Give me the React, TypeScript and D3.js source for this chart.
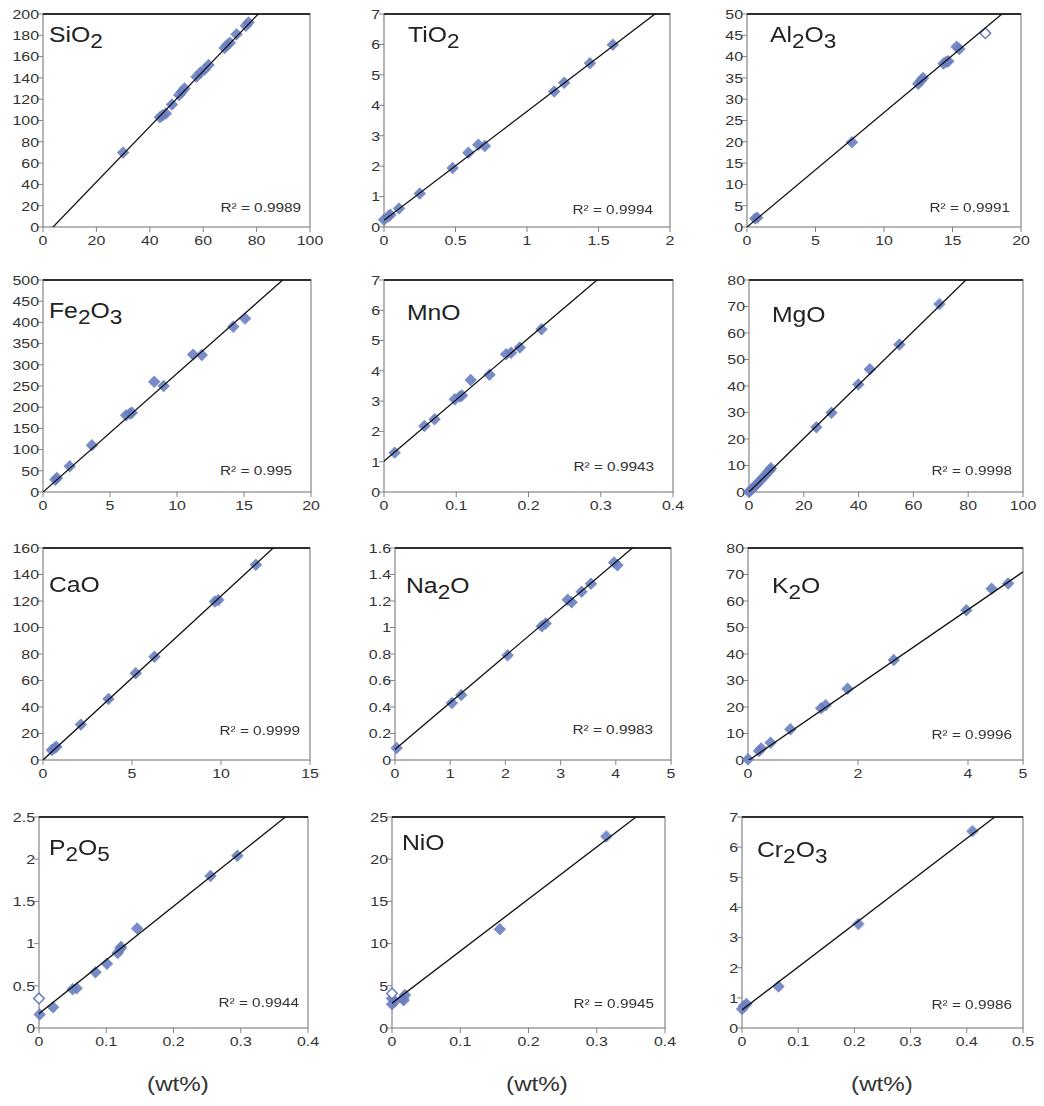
import React from 'react';
import * as d3 from 'd3';

// ---------- DATA ----------
const TITLE_PARTS: [string, boolean][][] = [
  [['SiO', false], ['2', true]],
  [['TiO', false], ['2', true]],
  [['Al', false], ['2', true], ['O', false], ['3', true]],
  [['Fe', false], ['2', true], ['O', false], ['3', true]],
  [['MnO', false]],
  [['MgO', false]],
  [['CaO', false]],
  [['Na', false], ['2', true], ['O', false]],
  [['K', false], ['2', true], ['O', false]],
  [['P', false], ['2', true], ['O', false], ['5', true]],
  [['NiO', false]],
  [['Cr', false], ['2', true], ['O', false], ['3', true]],
];

const R2_LABELS = [
  'R² = 0.9989', 'R² = 0.9994', 'R² = 0.9991',
  'R² = 0.995', 'R² = 0.9943', 'R² = 0.9998',
  'R² = 0.9999', 'R² = 0.9983', 'R² = 0.9996',
  'R² = 0.9944', 'R² = 0.9945', 'R² = 0.9986',
];

const X_MAX = [100, 2, 20, 20, 0.4, 100, 15, 5, 5, 0.4, 0.4, 0.5];
const Y_MAX = [200, 7, 50, 500, 7, 80, 160, 1.6, 80, 2.5, 25, 7];

const X_TICKS = [
  [0, 20, 40, 60, 80, 100],
  [0, 0.5, 1, 1.5, 2],
  [0, 5, 10, 15, 20],
  [0, 5, 10, 15, 20],
  [0, 0.1, 0.2, 0.3, 0.4],
  [0, 20, 40, 60, 80, 100],
  [0, 5, 10, 15],
  [0, 1, 2, 3, 4, 5],
  [0, 2, 4, 5],
  [0, 0.1, 0.2, 0.3, 0.4],
  [0, 0.1, 0.2, 0.3, 0.4],
  [0, 0.1, 0.2, 0.3, 0.4, 0.5],
];
const Y_TICKS = [
  [0, 20, 40, 60, 80, 100, 120, 140, 160, 180, 200],
  [0, 1, 2, 3, 4, 5, 6, 7],
  [0, 5, 10, 15, 20, 25, 30, 35, 40, 45, 50],
  [0, 50, 100, 150, 200, 250, 300, 350, 400, 450, 500],
  [0, 1, 2, 3, 4, 5, 6, 7],
  [0, 10, 20, 30, 40, 50, 60, 70, 80],
  [0, 20, 40, 60, 80, 100, 120, 140, 160],
  [0, 0.2, 0.4, 0.6, 0.8, 1, 1.2, 1.4, 1.6],
  [0, 10, 20, 30, 40, 50, 60, 70, 80],
  [0, 0.5, 1, 1.5, 2, 2.5],
  [0, 5, 10, 15, 20, 25],
  [0, 1, 2, 3, 4, 5, 6, 7],
];

// trendline coefficients
const TREND_SLOPE = [2.602, 3.578, 2.687, 27.95, 20.28, 1.0107, 12.37, 0.3535, 14.26, 6.36, 61.66, 14.23];
const TREND_INTERCEPT = [-9.76, 0.22, 0, 0, 1.02, 0, 0, 0.08, -0.3, 0.17, 2.95, 0.6];

const SIO2_PTS = [[30, 70], [43.8, 103], [44.8, 105], [46, 106.5], [48.3, 115], [51, 124], [52, 127], [53, 130], [57.5, 141], [59, 145], [60.5, 148], [62, 152], [68, 168], [69, 171], [70, 173], [72.5, 181], [76, 189], [77, 192]];
const TIO2_PTS = [[0, 0.24], [0.03, 0.35], [0.045, 0.4], [0.105, 0.61], [0.25, 1.1], [0.48, 1.94], [0.59, 2.44], [0.66, 2.7], [0.705, 2.66], [1.19, 4.45], [1.26, 4.74], [1.44, 5.38], [1.6, 5.99]];
const AL2O3_PTS = [[0.6, 2.0], [0.75, 2.2], [7.66, 19.9], [12.5, 33.6], [12.7, 34.4], [12.85, 35], [14.35, 38.4], [14.55, 38.8], [14.7, 38.9], [15.3, 42.3], [15.5, 41.8]];
const AL2O3_OPEN = [[17.4, 45.5]];
const FE2O3_PTS = [[0.92, 29], [1.04, 33], [1.99, 60.6], [3.65, 110], [6.2, 181], [6.5, 185], [6.63, 187], [8.3, 260], [9.0, 250], [11.2, 324], [11.85, 323], [14.2, 390], [15.08, 409]];
const MNO_PTS = [[0.0148, 1.3], [0.056, 2.18], [0.07, 2.4], [0.098, 3.06], [0.105, 3.15], [0.108, 3.19], [0.12, 3.7], [0.146, 3.87], [0.169, 4.55], [0.176, 4.6], [0.188, 4.77], [0.218, 5.37]];
const MGO_PTS = [[0, 0], [0.5, 0.6], [1.2, 1.3], [2, 2.1], [3, 3], [4, 4.2], [5, 5.3], [6, 6.4], [7, 7.6], [7.6, 8.2], [8, 9], [24.6, 24.4], [30.1, 29.9], [39.9, 40.6], [44.1, 46.3], [54.9, 55.7], [69.5, 70.9]];
const CAO_PTS = [[0.5, 7.5], [0.65, 9], [0.75, 10], [2.13, 26.7], [3.68, 46], [5.21, 65.4], [6.26, 78], [9.66, 119.7], [9.85, 120.8], [11.96, 147.4]];
const NA2O_PTS = [[0.03, 0.09], [1.03, 0.43], [1.2, 0.49], [2.04, 0.79], [2.66, 1.01], [2.73, 1.03], [3.13, 1.21], [3.2, 1.19], [3.38, 1.27], [3.55, 1.33], [3.97, 1.49], [4.03, 1.47]];
const K2O_PTS = [[0, 0.3], [0.2, 3.4], [0.24, 4.3], [0.41, 6.5], [0.77, 11.6], [1.33, 19.5], [1.41, 20.7], [1.81, 26.9], [2.65, 37.7], [3.97, 56.5], [4.43, 64.6], [4.73, 66.6]];
const P2O5_PTS = [[0.001, 0.16], [0.021, 0.245], [0.05, 0.46], [0.056, 0.47], [0.084, 0.66], [0.101, 0.76], [0.117, 0.89], [0.121, 0.94], [0.122, 0.96], [0.146, 1.18], [0.255, 1.8], [0.295, 2.04]];
const P2O5_OPEN = [[0, 0.35]];
const NIO_PTS = [[0, 3.5], [0, 2.8], [0.004, 3.15], [0.016, 3.5], [0.019, 3.9], [0.017, 3.3], [0.158, 11.7], [0.314, 22.7]];
const NIO_OPEN = [[0, 4.1]];
const CR2O3_PTS = [[0, 0.63], [0.004, 0.74], [0.008, 0.8], [0.065, 1.38], [0.207, 3.45], [0.41, 6.53]];

const FILLED = [SIO2_PTS, TIO2_PTS, AL2O3_PTS, FE2O3_PTS, MNO_PTS, MGO_PTS, CAO_PTS, NA2O_PTS, K2O_PTS, P2O5_PTS, NIO_PTS, CR2O3_PTS];
const OPEN = [[], [], AL2O3_OPEN, [], [], [], [], [], [], P2O5_OPEN, NIO_OPEN, []];

const UNIT_LABEL = '(wt%)';

// ---------- LAYOUT ----------
const PLOT_X = [[43, 310], [384, 670], [747, 1021], [43, 311], [384, 673], [749, 1023], [43, 310], [395, 671], [748, 1023], [39, 308], [392, 665], [742, 1023]];
const ROW_Y = [[14, 227], [280, 492], [548, 760], [817, 1028]];
const TITLE_POS = [[49, 42], [408, 42], [770, 42], [49, 318], [407, 320], [772, 322], [49, 592], [406, 593], [772, 593], [49, 855], [402, 850], [757, 857]];
const R2_POS = [[301, 207], [653, 209], [1010, 207], [292, 470], [654, 466], [1012, 470], [300, 730], [653, 729], [1012, 734], [299, 1002], [654, 1003], [1012, 1004]];
const UNIT_X = [178, 537, 882];
const UNIT_Y = 1091;

const FONT = '"Liberation Sans", Arial, Helvetica, sans-serif';
const SX = 1.18;
const MARK = '#6a7fc1';
const TXT = '#333';
const AXIS = '#858585';

const diamond = d3.symbol().type(d3.symbolSquare).size(78)() as string;
const openDiamond = d3.symbol().type(d3.symbolSquare).size(56)() as string;

function fmt(v: number) {
  return String(+v.toFixed(3));
}

function SText({ x, y, size, anchor = 'start', fill = TXT, children }: any) {
  return (
    <text
      transform={`translate(${x},${y}) scale(${SX},1)`}
      textAnchor={anchor}
      fontSize={size}
      fontFamily={FONT}
      fill={fill}
    >
      {children}
    </text>
  );
}

function Panel({ i }: { i: number }) {
  const [x0, x1] = PLOT_X[i];
  const [y0, y1] = ROW_Y[Math.floor(i / 3)];
  const x = d3.scaleLinear().domain([0, X_MAX[i]]).range([x0, x1]);
  const y = d3.scaleLinear().domain([0, Y_MAX[i]]).range([y1, y0]);
  const line = d3
    .line<number>()
    .x((d) => x(d))
    .y((d) => y(TREND_INTERCEPT[i] + TREND_SLOPE[i] * d));
  const trend = line([-X_MAX[i] * 0.1, X_MAX[i] * 1.1]) as string;
  const clipId = `clip-${i}`;
  const [tx, ty] = TITLE_POS[i];
  const [rx, ry] = R2_POS[i];
  return (
    <g>
      <defs>
        <clipPath id={clipId}>
          <rect x={x0} y={y0} width={x1 - x0} height={y1 - y0} />
        </clipPath>
      </defs>
      {/* frame */}
      <rect x={x0} y={y0} width={x1 - x0} height={y1 - y0} fill="#fff" stroke={AXIS} strokeWidth={1.2} />
      <line x1={x0} x2={x1} y1={y0} y2={y0} stroke="#2e2e2e" strokeWidth={2} />
      {/* y ticks */}
      {Y_TICKS[i].map((t) => (
        <g key={'y' + t}>
          <line x1={x0 - 5} x2={x0} y1={y(t)} y2={y(t)} stroke={AXIS} strokeWidth={1} />
          <SText x={x0 - 4} y={y(t) + 4.8} size={13.5} anchor="end">
            {fmt(t)}
          </SText>
        </g>
      ))}
      {/* x ticks */}
      {X_TICKS[i].map((t) => (
        <g key={'x' + t}>
          <line x1={x(t)} x2={x(t)} y1={y1} y2={y1 + 5} stroke={AXIS} strokeWidth={1} />
          <SText x={x(t)} y={y1 + 18} size={13.5} anchor="middle">
            {fmt(t)}
          </SText>
        </g>
      ))}
      {/* markers */}
      <g filter="url(#soft)">
        {FILLED[i].map((p, k) => (
          <path key={'f' + k} d={diamond} transform={`translate(${x(p[0])},${y(p[1])}) rotate(45)`} fill={MARK} fillOpacity={0.9} />
        ))}
        {OPEN[i].map((p, k) => (
          <path key={'o' + k} d={openDiamond} transform={`translate(${x(p[0])},${y(p[1])}) rotate(45)`} fill="#fff" stroke={MARK} strokeWidth={1.5} />
        ))}
      </g>
      {/* trend line */}
      <path d={trend} clipPath={`url(#${clipId})`} fill="none" stroke="#111" strokeWidth={1.3} />
      {/* title */}
      <text transform={`translate(${tx},${ty}) scale(1.1,1)`} fontFamily={FONT} fontSize={22.5} fill="#222">
        {TITLE_PARTS[i].map(([s, sub], k) => {
          const prevSub = k > 0 && TITLE_PARTS[i][k - 1][1];
          const dy = sub ? 6 : prevSub ? -6 : 0;
          return (
            <tspan key={k} dy={dy} fontSize={sub ? 20.5 : 22.5}>
              {s}
            </tspan>
          );
        })}
      </text>
      {/* R2 */}
      <SText x={rx} y={ry + 4.7} size={13} anchor="end" fill="#333">
        {R2_LABELS[i]}
      </SText>
    </g>
  );
}

export default function App() {
  return (
    <svg
      width={1044}
      height={1106}
      style={{ position: 'absolute', left: 0, top: 0, background: '#fff' }}
    >
      <defs>
        <filter id="soft" x="-10%" y="-10%" width="120%" height="120%">
          <feGaussianBlur stdDeviation={0.45} />
        </filter>
      </defs>
      <rect x={0} y={0} width={1044} height={1106} fill="#fff" />
      {FILLED.map((_, i) => (
        <Panel key={i} i={i} />
      ))}
      {UNIT_X.map((ux, k) => (
        <SText key={k} x={ux} y={UNIT_Y} size={20.5} anchor="middle" fill="#333">
          {UNIT_LABEL}
        </SText>
      ))}
    </svg>
  );
}
